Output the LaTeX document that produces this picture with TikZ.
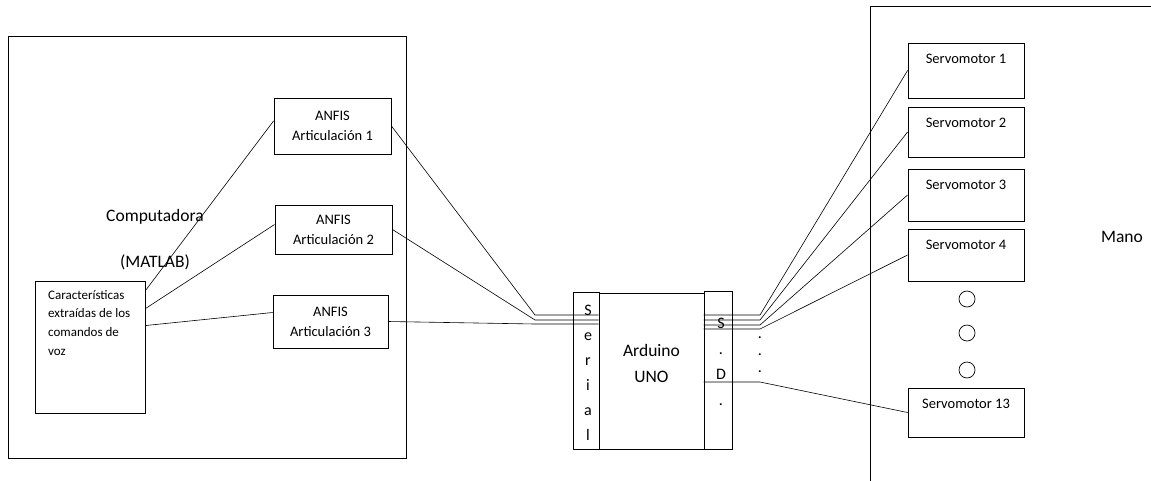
\documentclass[tikz,border=0pt]{standalone}
\usepackage{fontspec}
\setmainfont{Carlito}
\usetikzlibrary{calc}

\begin{document}
\begin{tikzpicture}[x=1pt,y=-1pt,
	box/.style={draw, line width=0.9pt, inner sep=0pt},
	frame/.style={line width=0.9pt},
	wire/.style={line width=0.6pt},
	big/.style={font=\fontsize{17.5}{21}\selectfont},
	small/.style={font=\fontsize{14.5}{20}\selectfont, align=center}]
	\useasboundingbox (0,0) rectangle (1151,480);
	\clip (0,0) rectangle (1151,480);

	% computadora
	\node[box, minimum width=398, minimum height=422] (pc) at (207,247) {};
	\node[big] (comp) at (155,217) {Computadora};
	\node[big] (matlab) at (155,262) {(MATLAB)};
	\node[box, minimum width=110, minimum height=132] (car) at (90,347) {};
	\node[anchor=north west, align=left, inner sep=0pt, font=\fontsize{13}{18.7}\selectfont] (cartxt) at (48,290)
		{Características\\extraídas de los\\comandos de\\voz};
	\node[box, small, minimum width=117, minimum height=56] (a1) at (332.5,126) {ANFIS\\Articulación 1};
	\node[box, small, minimum width=117, minimum height=49] (a2) at (333.5,229.5) {ANFIS\\Articulación 2};
	\node[box, small, minimum width=115, minimum height=53] (a3) at (330.5,321.5) {ANFIS\\Articulación 3};
	\draw[wire] ($(car.north east)+(0,10)$) -- ($(a1.west)+(0,-5)$);
	\draw[wire] ($(car.north east)+(0,28)$) -- ($(a2.west)+(0,-5)$);
	\draw[wire] ($(car.north east)+(0,45)$) -- ($(a3.west)+(0,-9)$);

	% arduino
	\node[box, minimum width=26, minimum height=157] (ser) at (586,370.5) {};
	\node[box, minimum width=105, minimum height=156] (uno) at (651.5,371) {};
	\node[box, minimum width=28, minimum height=158] (sd) at (718,370) {};
	\node[big, align=center, font=\fontsize{17.5}{26}\selectfont] (unotxt) at (651.5,363) {Arduino\\UNO};
	\foreach \c [count=\i] in {S,e,r,i,a,l}
		\node[anchor=base, inner sep=0pt, font=\fontsize{16}{16}\selectfont] (ser\i) at (588,290+25*\i) {\c};
	\foreach \c [count=\i] in {S,.,D,.}
		\node[anchor=base, inner sep=0pt, font=\fontsize{16}{16}\selectfont] (sd\i) at (721,303+25.5*\i) {\c};
	\foreach \i in {1,2,3}
		\node[anchor=base, inner sep=0pt, font=\fontsize{16}{16}\selectfont] (dot\i) at (760,321+17*\i) {.};

	\coordinate (j1) at (535,315);
	\coordinate (j2) at (535,320);
	\coordinate (j3) at (535,324);
	\draw[wire] (a1.east) -- (j1) -- (j1 -| uno.west);
	\draw[wire] (a2.east) -- (j2) -- (j2 -| uno.west);
	\draw[wire] (a3.east) -- (j3) -- (j3 -| uno.west);

	% mano
	\draw[frame] (1160,6) -- (870,6) -- (870,490);
	\node[big] (mano) at (1122,237) {Mano};
	\foreach \n/\y/\h in {1/70.5/55, 2/132/50, 3/195/52, 4/255/52, 13/412.5/49}
		\node[box, minimum width=116, minimum height=\h,
			label={[anchor=north, yshift=-8pt, font=\fontsize{14.5}{17}\selectfont]north:Servomotor \n}] (s\n) at (966,\y) {};
	\foreach \y [count=\i] in {299,333,370}
		\node[draw, circle, minimum size=16, inner sep=0pt, line width=0.7pt] (c\i) at (967,\y) {};

	\coordinate (k1) at (760,315);
	\coordinate (k2) at (760,320);
	\coordinate (k3) at (760,325);
	\coordinate (k4) at (760,329);
	\coordinate (k13) at (760,382);
	\foreach \k in {1,2,3,4,13}
		\draw[wire] (sd.west |- k\k) -- (k\k) -- (s\k.west);
\end{tikzpicture}
\end{document}
